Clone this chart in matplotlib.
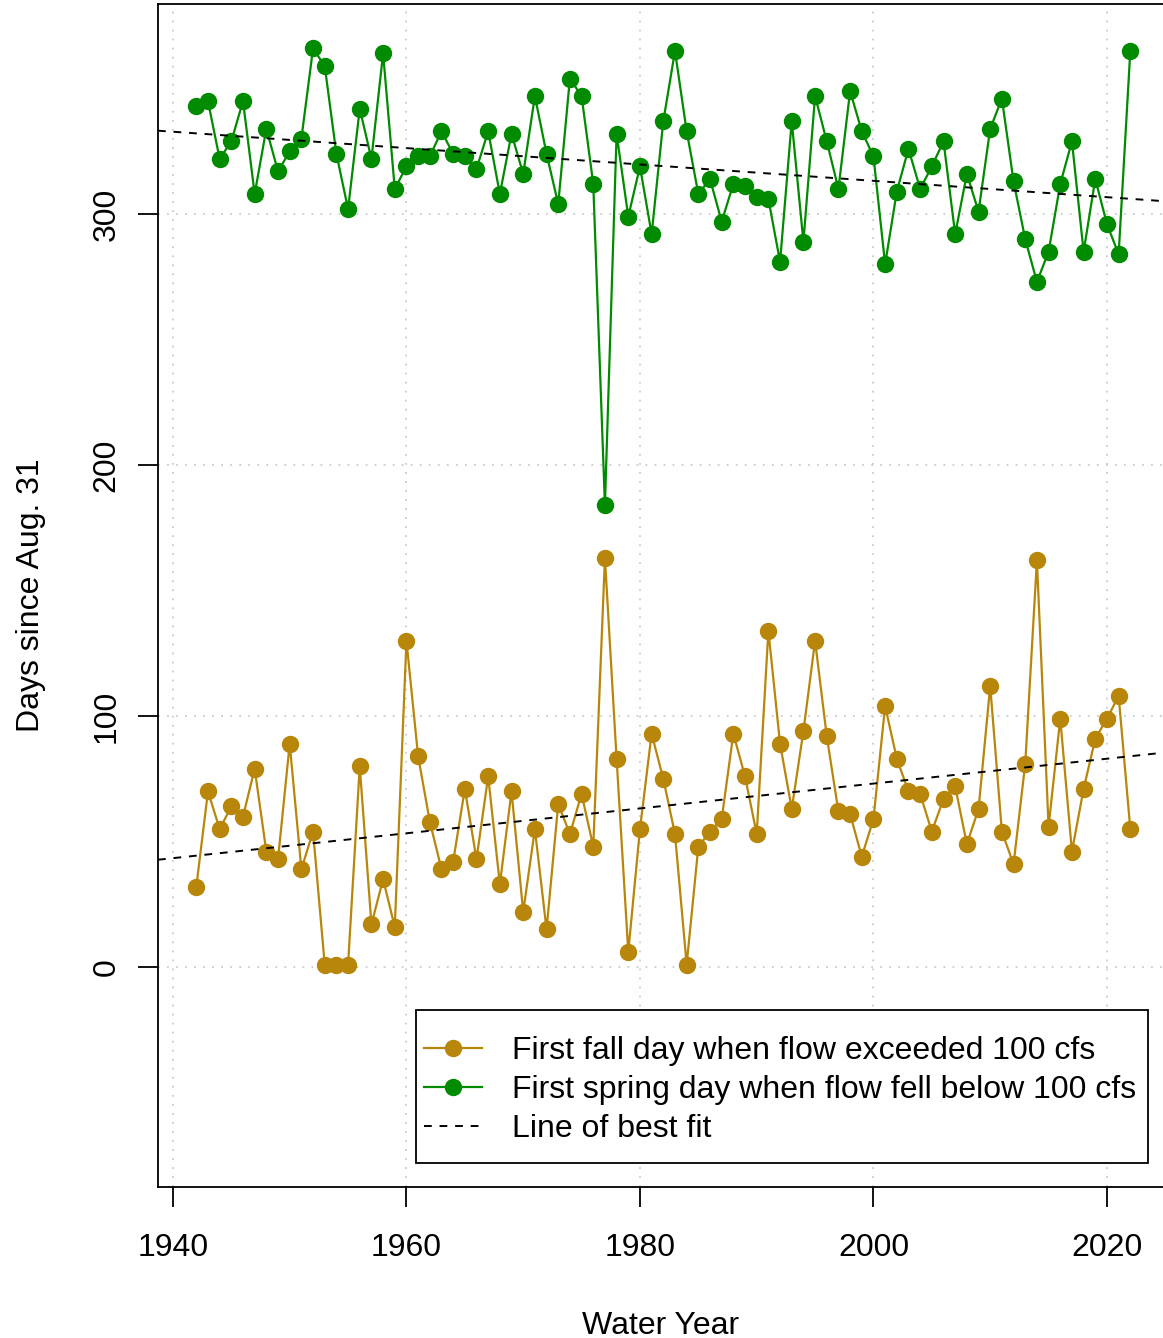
import numpy as np
import matplotlib.pyplot as plt
from matplotlib.path import Path

plt.rcParams['font.family'] = ['Liberation Sans', 'DejaVu Sans']

# Water years
years = list(range(1942, 2023))

# First fall day when flow exceeded 100 cfs (days since Aug. 31)
fall_days = [32, 70, 55, 64, 60, 79, 46, 43, 89, 39,
             54, 1, 1, 1, 80, 17, 35, 16, 130, 84,
             58, 39, 42, 71, 43, 76, 33, 70, 22, 55,
             15, 65, 53, 69, 48, 163, 83, 6, 55, 93,
             75, 53, 1, 48, 54, 59, 93, 76, 53, 134,
             89, 63, 94, 130, 92, 62, 61, 44, 59, 104,
             83, 70, 69, 54, 67, 72, 49, 63, 112, 54,
             41, 81, 162, 56, 99, 46, 71, 91, 99, 108,
             55]

# First spring day when flow fell below 100 cfs (days since Aug. 31)
spring_days = [343, 345, 322, 329, 345, 308, 334, 317, 325, 330,
               366, 359, 324, 302, 342, 322, 364, 310, 319, 323,
               323, 333, 324, 323, 318, 333, 308, 332, 316, 347,
               324, 304, 354, 347, 312, 184, 332, 299, 319, 292,
               337, 365, 333, 308, 314, 297, 312, 311, 307, 306,
               281, 337, 289, 347, 329, 310, 349, 333, 323, 280,
               309, 326, 310, 319, 329, 292, 316, 301, 334, 346,
               313, 290, 273, 285, 312, 329, 285, 314, 296, 284,
               365]

gold = '#B8860B'
green = '#008B00'
dash = (0, (4, 4))


def r_box(x0, y0, width, height, mutation_size):
    # legend frame with extra room above/below and on the right (R style)
    top = 0.55 * mutation_size
    bot = 0.36 * mutation_size
    right = 0.13 * mutation_size
    x1 = x0 + width + right
    return Path([(x0, y0 - bot), (x1, y0 - bot),
                 (x1, y0 + height + top), (x0, y0 + height + top),
                 (x0, y0 - bot)], closed=True)


fig = plt.figure(figsize=(11.63, 13.38), dpi=100)
ax = fig.add_axes([158 / 1163, 151 / 1338, 1005 / 1163, 1183 / 1338])

xlim = (1938.72, 2024.8)
ax.set_xlim(*xlim)
ax.set_ylim(-87.6, 383.7)

# dotted grid
for gx in [1940, 1960, 1980, 2000, 2020]:
    ax.axvline(gx, color='#cccccc', lw=1.3, ls=(0, (1, 4)), zorder=0)
for gy in [0, 100, 200, 300]:
    ax.axhline(gy, color='#cccccc', lw=1.3, ls=(0, (1, 4)), zorder=0)

ax.plot(years, fall_days, color=gold, lw=1.6, marker='o', ms=11.5,
        label='First fall day when flow exceeded 100 cfs', zorder=3)
ax.plot(years, spring_days, color=green, lw=1.6, marker='o', ms=11.5,
        label='First spring day when flow fell below 100 cfs', zorder=3)

# lines of best fit
xx = np.array(xlim)
for series in (fall_days, spring_days):
    slope, intercept = np.polyfit(years, series, 1)
    ax.plot(xx, slope * xx + intercept, color='black', lw=1.4, ls=dash, zorder=4)
ax.plot([], [], color='black', lw=1.4, ls=dash, label='Line of best fit')

ax.set_xticks([1940, 1960, 1980, 2000, 2020])
ax.set_yticks([0, 100, 200, 300])
ax.tick_params(axis='both', labelsize=23, length=14.4, width=1.3)
ax.tick_params(axis='x', pad=19)
ax.tick_params(axis='y', pad=12)
plt.setp(ax.get_yticklabels(), rotation=90, va='center')

ax.spines['right'].set_visible(False)
for s in ('left', 'bottom', 'top'):
    ax.spines[s].set_linewidth(1.3)

ax.set_xlabel('Water Year', fontsize=23, labelpad=34)
ax.set_ylabel('Days since Aug. 31', fontsize=23, labelpad=33)

leg = ax.legend(loc='lower right', bbox_to_anchor=(0.981, 0.0297),
                borderaxespad=0, fontsize=23, frameon=True, fancybox=False,
                edgecolor='black', framealpha=1, handlelength=1.8,
                borderpad=0.25, labelspacing=0.28, handletextpad=0.94)
leg.get_frame().set_linewidth(1.3)
leg.get_frame().set_boxstyle(r_box)

fig.savefig('out.png', dpi=100)
